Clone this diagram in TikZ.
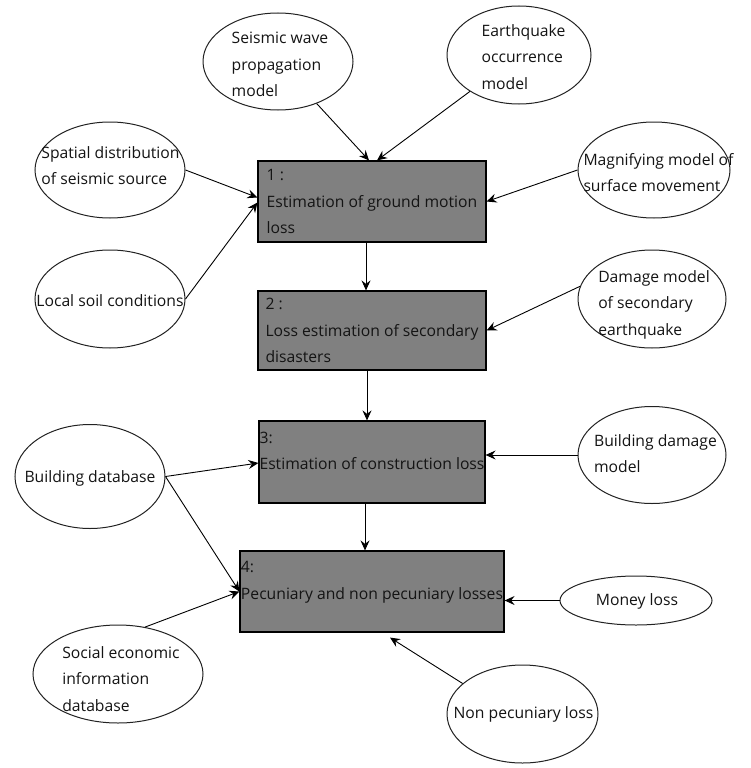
\documentclass[tikz,border=0pt]{standalone}
\usepackage{fontspec}
\setmainfont{Open Sans}
\usepackage{tikz}
\usetikzlibrary{arrows.meta,shapes.geometric}
\definecolor{ink}{HTML}{141414}
\definecolor{stagefill}{HTML}{808080}
\definecolor{rim}{HTML}{222222}
\NewDocumentCommand{\ovaltext}{O{0pt} O{5pt} m}{%
  \smash{\raisebox{-#2}{\makebox[0pt]{\kern#1\begin{tabular}{@{}l@{}}#3\end{tabular}}}}}

\begin{document}
\begin{tikzpicture}[x=1pt, y=-1pt,
  stage/.style={draw=black, line width=1.2pt, fill=stagefill, align=left,
                inner sep=0pt, text=ink, font=\fontsize{15.7}{26.5}\selectfont},
  factor/.style={ellipse, draw=rim, line width=1pt, fill=white, inner sep=0pt,
                 text=ink, font=\fontsize{15.7}{26.5}\selectfont},
  arr/.style={-{Stealth[length=10pt,width=9pt,inset=3.5pt]}, line width=0.9pt, black}
]
\useasboundingbox (0,0) rectangle (751,768);

\node[stage, minimum width=228pt, minimum height=81pt] (ground) at (372,201.5)
  {1 :\\Estimation of ground motion\\loss};
\node[stage, minimum width=228pt, minimum height=79pt] (secondary) at (372,330.5)
  {2 :\\Loss estimation of secondary\\disasters};
\node[stage, minimum width=226pt, minimum height=82pt] (construct) at (372,462)
  {3:\\Estimation of construction loss\\[-12pt]\strut};
\node[stage, minimum width=264pt, minimum height=81pt] (pecun) at (372,591.5)
  {4:\\Pecuniary and non pecuniary losses\\[-12pt]\strut};

\node[factor, minimum width=150pt, minimum height=97pt] (wave) at (278,61.5)
  {\ovaltext[4pt][7pt]{Seismic wave\\propagation\\model}};
\node[factor, minimum width=144pt, minimum height=98pt] (quake) at (519,55)
  {\ovaltext[9pt][6pt]{Earthquake\\occurrence\\model}};
\node[factor, minimum width=150pt, minimum height=96pt] (spatial) at (110,170)
  {\ovaltext[1pt][0pt]{Spatial distribution\\of seismic source}};
\node[factor, minimum width=150pt, minimum height=98pt] (soil) at (110,299)
  {\ovaltext[0pt][6pt]{Local soil conditions}};
\node[factor, minimum width=152pt, minimum height=96pt] (magnify) at (654,170)
  {\ovaltext[9pt][7pt]{Magnifying model of\\surface movement}};
\node[factor, minimum width=148pt, minimum height=98pt] (damage) at (652,299)
  {\ovaltext[4pt][8pt]{Damage model\\of secondary\\earthquake}};
\node[factor, minimum width=148pt, minimum height=97pt] (bdamage) at (652,455)
  {\ovaltext[7pt][3pt]{Building damage\\model}};
\node[factor, minimum width=150pt, minimum height=104pt] (bdata) at (90,476.5)
  {\ovaltext[0pt][4pt]{Building database}};
\node[factor, minimum width=170pt, minimum height=98pt] (social) at (118,674)
  {\ovaltext[6pt][9pt]{Social economic\\information\\database}};
\node[factor, minimum width=152pt, minimum height=49pt] (money) at (636,600.5)
  {\ovaltext[2pt][3pt]{Money loss}};
\node[factor, minimum width=151pt, minimum height=98pt] (nonpec) at (522.5,714)
  {\ovaltext[2pt][3pt]{Non pecuniary loss}};

\draw[arr] (wave) -- ([xshift=-3pt]ground.north);
\draw[arr] (quake) -- ([xshift=5pt]ground.north);
\draw[arr] (spatial.east) -- ([yshift=4pt]ground.west);
\draw[arr] (soil.east) -- ([yshift=-1pt]ground.west);
\draw[arr] (magnify.west) -- (ground.east);
\draw[arr] ([xshift=-6pt]ground.south) -- ([xshift=-6pt]secondary.north);
\draw[arr] (damage.170) -- (secondary.east);
\draw[arr] ([xshift=-5pt]secondary.south) -- ([xshift=-5pt]construct.north);
\draw[arr] (bdamage.west) -- (construct.east |- bdamage.west);
\draw[arr] (bdata.east) -- ([yshift=-1pt]construct.west);
\draw[arr] ([xshift=-7pt]construct.south) -- ([xshift=-7pt]pecun.north);
\draw[arr] (bdata.east) -- (pecun.west);
\draw[arr] (social.60) -- (pecun.west);
\draw[arr] (money.west) -- (pecun.east |- money.west);
\draw[arr] (nonpec.153) -- ([xshift=18pt,yshift=-5pt]pecun.south);
\end{tikzpicture}
\end{document}
